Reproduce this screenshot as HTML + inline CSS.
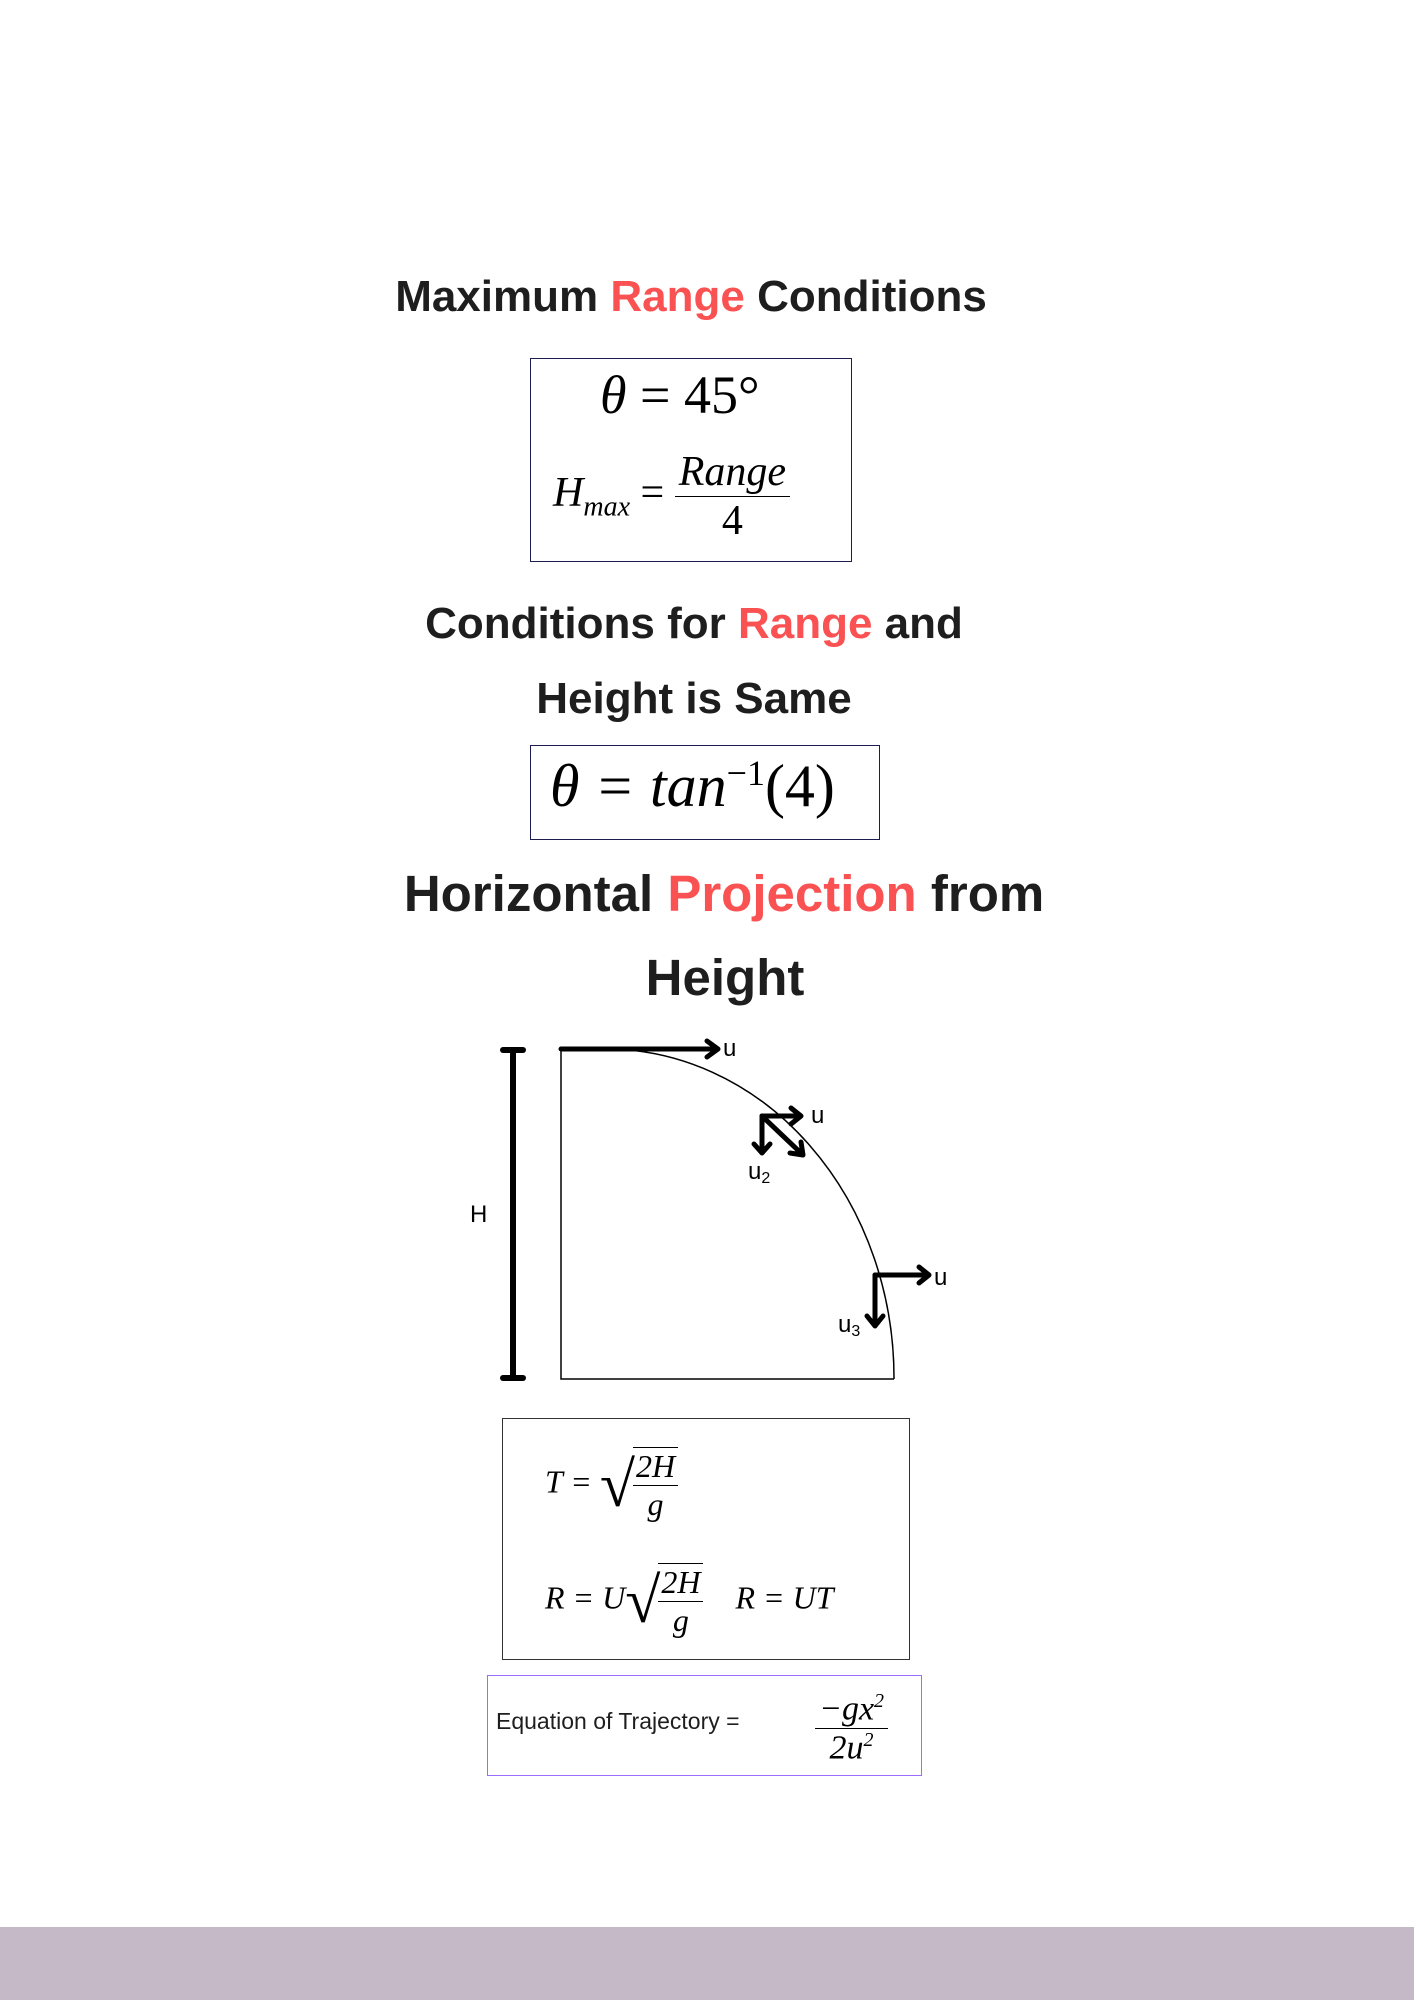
<!DOCTYPE html>
<html><head><meta charset="utf-8"><style>
body{margin:0;width:1414px;height:2000px;position:relative;background:#fff;overflow:hidden;font-family:"Liberation Sans",sans-serif;color:#1e1e1e}
.a{position:absolute;white-space:nowrap}
.t{font-family:"Liberation Sans",sans-serif;font-weight:bold;font-size:44px;text-align:center;width:1414px;left:0}
.r{color:#fa5252}
.m{font-family:"Liberation Serif",serif;color:#000}
.i{font-style:italic}
.box{position:absolute;border:1.5px solid #1e1e4e}
.frac{display:inline-block;vertical-align:middle;text-align:center}
.frac span{display:block}
.frac .n{border-bottom:1.5px solid #000}
</style></head><body>
<div class="a t" style="top:272px;left:-16px">Maximum <span class="r">Range</span> Conditions</div>
<div class="box" style="left:530px;top:358px;width:320px;height:202px"></div>
<div class="a m" style="left:600px;top:364px;font-size:54px"><span class="i">θ</span> = 45°</div>
<div class="a m" style="left:553px;top:448px;font-size:42px"><span class="i">H<sub style="font-size:28px">max</sub></span> = <span class="frac"><span class="n i" style="padding:0 4px">Range</span><span>4</span></span></div>

<div class="a t" style="top:599px;left:-13px">Conditions for <span class="r">Range</span> and</div>
<div class="a t" style="top:674px;left:-13px">Height is Same</div>
<div class="box" style="left:530px;top:745px;width:348px;height:93px"></div>
<div class="a m i" style="left:550px;top:752px;font-size:60px">θ = tan<sup style="font-size:36px;font-style:normal">−1</sup><span style="font-style:normal">(4)</span></div>

<div class="a t" style="top:864px;font-size:51px;left:17px">Horizontal <span class="r">Projection</span> from</div>
<div class="a t" style="top:948px;font-size:51px;left:18px">Height</div>

<svg class="a" style="left:0;top:0" width="1414" height="2000">
<g stroke="#000" fill="none">
<line x1="513" y1="1050" x2="513" y2="1378" stroke-width="6"/>
<line x1="503" y1="1050" x2="523" y2="1050" stroke-width="6" stroke-linecap="round"/>
<line x1="503" y1="1378" x2="523" y2="1378" stroke-width="6" stroke-linecap="round"/>
<path d="M561 1049 V1379 H894" stroke-width="1.5"/>
<path d="M606 1049 A288 329 0 0 1 894 1379" stroke-width="1.5"/>
<g stroke-width="5" stroke-linecap="round" stroke-linejoin="round">
<path d="M561 1049 H718 M707 1041 L718 1049 L707 1057"/>
<path d="M762 1116 H801 M791 1108 L801 1116 L791 1124"/>
<path d="M762 1116 L803 1155 M790 1153 L803 1155 L801 1142"/>
<path d="M762 1116 V1153 M754 1144 L762 1153 L770 1144"/>
<path d="M875 1275 H929 M919 1267 L929 1275 L919 1283"/>
<path d="M875 1275 V1326 M867 1316 L875 1326 L883 1316"/>
</g></g>
<g font-family="Liberation Sans" font-size="24" fill="#000">
<text x="723" y="1056">u</text>
<text x="811" y="1123">u</text>
<text x="748" y="1179">u<tspan font-size="16" dy="4">2</tspan></text>
<text x="934" y="1285">u</text>
<text x="838" y="1332">u<tspan font-size="16" dy="4">3</tspan></text>
<text x="470" y="1222">H</text>
</g>
</svg>

<div class="box" style="left:502px;top:1418px;width:406px;height:240px;border-color:#333"></div>
<div class="a m i" style="left:545px;top:1447px;font-size:32px">T = <span style="font-style:normal;font-size:64px;vertical-align:middle">√</span><span class="frac" style="margin-left:-2px;border-top:1.5px solid #000"><span class="n" style="padding:0 3px">2H</span><span>g</span></span></div>
<div class="a m i" style="left:545px;top:1563px;font-size:32px">R = U<span style="font-style:normal;font-size:64px;vertical-align:middle">√</span><span class="frac" style="margin-left:-2px;border-top:1.5px solid #000"><span class="n" style="padding:0 3px">2H</span><span>g</span></span>&nbsp;&nbsp;&nbsp;&nbsp;R = UT</div>

<div class="box" style="left:487px;top:1675px;width:433px;height:99px;border-color:#9b6cff"></div>
<div class="a" style="left:496px;top:1708px;font-size:23px">Equation of Trajectory =</div>
<div class="a m i" style="left:815px;top:1690px;font-size:34px"><span class="frac"><span class="n" style="padding:0 4px">−gx<sup style="font-size:20px">2</sup></span><span>2u<sup style="font-size:20px">2</sup></span></span></div>

<div class="a" style="left:0;top:1927px;width:1414px;height:73px;background:#c5b9c8"></div>
</body></html>
